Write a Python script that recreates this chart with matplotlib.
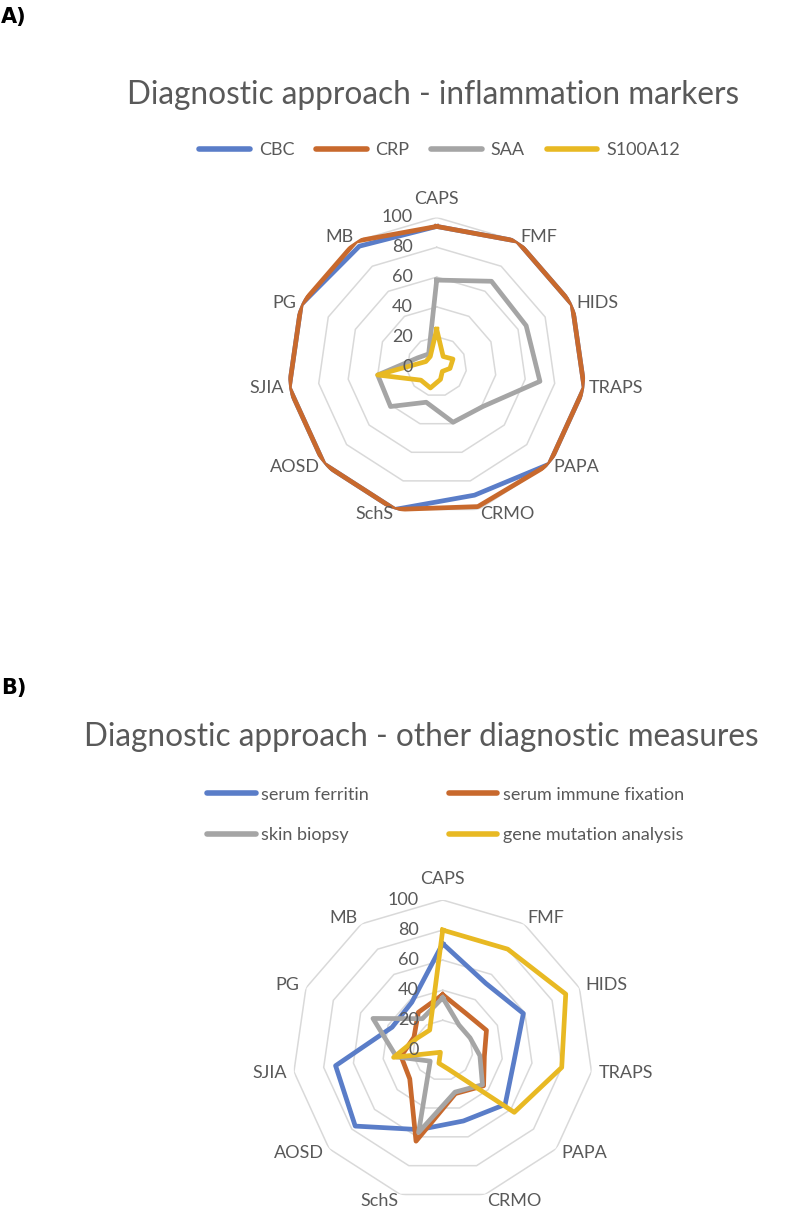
import numpy as np
import matplotlib
matplotlib.use("Agg")
import matplotlib.pyplot as plt
from matplotlib.lines import Line2D

W, H, DPI = 787, 1210, 100
PT = 72 / DPI  # pixels -> points

categories = ["CAPS", "FMF", "HIDS", "TRAPS", "PAPA", "CRMO", "SchS", "AOSD", "SJIA", "PG", "MB"]
r_ticks = [0, 20, 40, 60, 80, 100]

# A) inflammation markers
cbc = [94, 100, 100, 100, 100, 90, 100, 100, 100, 100, 96]
crp = [94, 100, 100, 100, 100, 98, 100, 100, 100, 100, 100]
saa = [58, 68, 66, 70, 41, 39, 25, 41, 40, 14, 10]
s100a12 = [25, 8, 12, 9, 5, 9, 15, 14, 40, 8, 8]

# B) other diagnostic measures
ferritin = [71, 53, 59, 48, 55, 49, 55, 77, 72, 37, 38]
immune_fix = [37, 29, 32, 28, 36, 30, 63, 29, 28, 21, 30]
skin_biopsy = [35, 20, 20, 25, 35, 29, 57, 11, 31, 51, 25]
gene_mut = [80, 80, 90, 80, 63, 13, 9, 2, 33, 19, 16]

BLUE = "#5A7DC8"
ORANGE = "#C8692D"
GREY = "#A5A5A5"
YELLOW = "#E8B923"
TXT = "#595959"

plt.rcParams["font.family"] = ["Lato", "DejaVu Sans"]

fig = plt.figure(figsize=(W / DPI, H / DPI), dpi=DPI)


def polar_axes(cx, cy, r):
    # polar axes placed from a pixel centre and radius
    return fig.add_axes([(cx - r) / W, 1 - (cy + r) / H, 2 * r / W, 2 * r / H],
                        projection="polar")


def radar(ax, series, pad=6, tick_off=24):
    theta = np.linspace(0, 2 * np.pi, len(categories), endpoint=False)
    closed = np.append(theta, theta[0])
    ax.set_theta_zero_location("N")
    ax.set_theta_direction(-1)
    ax.set_ylim(0, 100)
    ax.axis("off")

    for v in r_ticks[1:]:
        ax.plot(closed, [v] * len(closed), color="#D9D9D9", lw=1.1, zorder=1)
    for v in r_ticks:
        ax.annotate(str(v), xy=(0, v), xytext=(-tick_off * PT, 0), textcoords="offset points",
                    ha="right", va="center", fontsize=13, color=TXT, zorder=5)

    for name, vals, col in series:
        ax.plot(closed, np.append(vals, vals[0]), color=col, lw=3.4, label=name,
                solid_joinstyle="round", zorder=3)

    for t, c in zip(theta, categories):
        s, co = np.sin(t), np.cos(t)
        if abs(s) < 0.05:
            ax.annotate(c, xy=(t, 100), xytext=(0, (pad + 6) * PT), textcoords="offset points",
                        ha="center", va="bottom", fontsize=13, color=TXT)
        else:
            ax.annotate(c, xy=(t, 100), xytext=(s * pad * PT, co * pad * PT),
                        textcoords="offset points", ha="left" if s > 0 else "right",
                        va="center", fontsize=13, color=TXT)


# ---- panel A ----
fig.text(1 / W, 1 - 17 / H, "A)", fontsize=15, fontweight="bold", ha="left", va="center",
         family=["Liberation Sans Narrow", "DejaVu Sans"])
fig.text(433 / W, 1 - 95 / H, "Diagnostic approach - inflammation markers",
         fontsize=22.7, color=TXT, ha="center", va="center")

axA = polar_axes(436.7, 366.5, 149)
seriesA = [("CBC", cbc, BLUE), ("CRP", crp, ORANGE), ("SAA", saa, GREY), ("S100A12", s100a12, YELLOW)]
radar(axA, seriesA, pad=5)
hA = [Line2D([], [], color=c, lw=4, solid_capstyle="round") for _, _, c in seriesA]
fig.legend(hA, [n for n, _, _ in seriesA], ncol=4, loc="center left",
           bbox_to_anchor=(183 / W, 1 - 150 / H), frameon=False, fontsize=13,
           handlelength=2.8, handletextpad=0.5, columnspacing=1.2, labelcolor=TXT)

# ---- panel B ----
fig.text(1 / W, 1 - 688 / H, "B)", fontsize=15, fontweight="bold", ha="left", va="center",
         family=["Liberation Sans Narrow", "DejaVu Sans"])
fig.text(421 / W, 1 - 737 / H, "Diagnostic approach - other diagnostic measures",
         fontsize=22.7, color=TXT, ha="center", va="center")

axB = polar_axes(442.7, 1050.3, 150.3)
seriesB = [("serum ferritin", ferritin, BLUE), ("serum immune fixation", immune_fix, ORANGE),
           ("skin biopsy", skin_biopsy, GREY), ("gene mutation analysis", gene_mut, YELLOW)]
radar(axB, seriesB, pad=7)
# legend is filled column by column -> reorder to read row by row
order = [0, 2, 1, 3]
hB = [Line2D([], [], color=seriesB[i][2], lw=4, solid_capstyle="round") for i in order]
fig.legend(hB, [seriesB[i][0] for i in order], ncol=2, loc="center left",
           bbox_to_anchor=(191 / W, 1 - 815 / H), frameon=False, fontsize=13,
           handlelength=2.7, handletextpad=0.3, columnspacing=4.4, labelspacing=1.35,
           labelcolor=TXT)

fig.savefig("out.png", dpi=DPI)
